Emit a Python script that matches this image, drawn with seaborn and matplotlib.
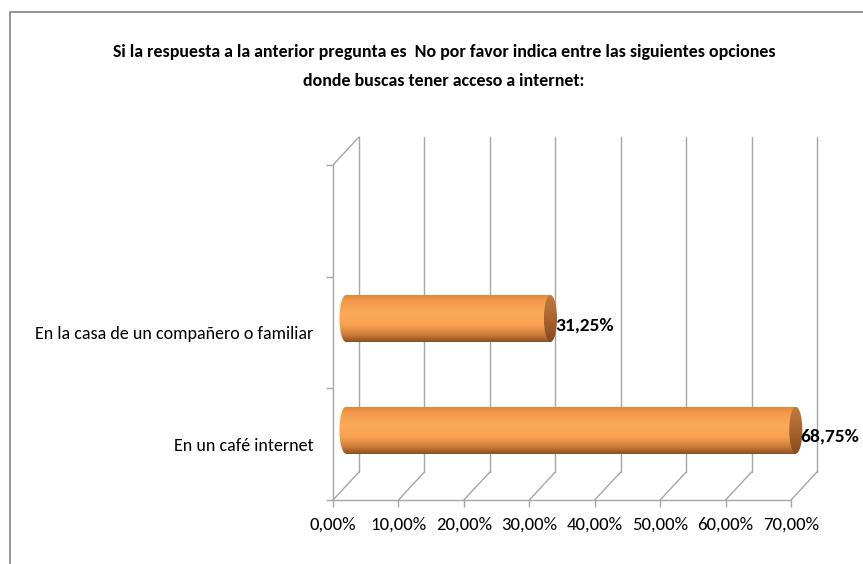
import numpy as np
import seaborn as sns
import matplotlib.pyplot as plt
from matplotlib import transforms
from matplotlib.patches import Ellipse, Rectangle
from matplotlib.colors import LinearSegmentedColormap

categories = ["En la casa de un compañero o familiar", "En un café internet"]
values = [31.25, 68.75]
x_ticks = [0, 10, 20, 30, 40, 50, 60, 70]
title = ("Si la respuesta a la anterior pregunta es  No por favor indica entre las siguientes opciones\n"
         "donde buscas tener acceso a internet:")

sns.set_style("white")
plt.rcParams['font.family'] = ['Carlito', 'DejaVu Sans']
plt.rcParams['text.color'] = 'black'

DPI = 100
GRID = '#a6a6a6'
fig = plt.figure(figsize=(8.63, 5.64), dpi=DPI)
ax = fig.add_axes([333 / 863, 64 / 564, 458 / 863, 335 / 564])
ax.set_facecolor('none')

sns.barplot(x=values, y=categories, orient='h', color='#f7a04c', width=0.42,
            errorbar=None, ax=ax, zorder=3, linewidth=0)

ax.set_xlim(0, 70)
ax.set_ylim(1.5, -1.5)

# depth offsets (pixels) for the fake 3d look
mid = ax.transData + transforms.ScaledTranslation(13 / DPI, 14 / DPI, fig.dpi_scale_trans)
back = ax.transData + transforms.ScaledTranslation(26 / DPI, 28 / DPI, fig.dpi_scale_trans)

# back wall gridlines
for xv in x_ticks:
    ax.plot([xv, xv], [1.5, -1.5], transform=back, color=GRID, lw=1.0, zorder=1, clip_on=False)

# floor lines + top of left wall
def depth_line(xv, yv):
    tr = fig.dpi_scale_trans + transforms.ScaledTranslation(xv, yv, ax.transData)
    ax.plot([0, 26 / DPI], [0, 28 / DPI], transform=tr, color=GRID, lw=1.0, zorder=1, clip_on=False)

for xv in x_ticks:
    depth_line(xv, 1.5)
depth_line(0, -1.5)

# spines / ticks
for s in ['top', 'right']:
    ax.spines[s].set_visible(False)
for s in ['left', 'bottom']:
    ax.spines[s].set_color(GRID)
    ax.spines[s].set_linewidth(1.0)

ax.set_xticks(x_ticks)
ax.set_xticklabels([f"{v:.2f}".replace('.', ',') + '%' for v in x_ticks])
ax.tick_params(axis='x', bottom=True, direction='out', length=5, width=1, color=GRID,
               pad=7, labelsize=13.5, labelcolor='black')
ax.set_yticks([0, 1], categories)
ax.set_yticks([-1.5, -0.5, 0.5, 1.5], minor=True)
ax.tick_params(axis='y', which='major', length=0, pad=14, labelsize=13, labelcolor='black')
ax.tick_params(axis='y', which='minor', left=True, direction='out', length=5, width=1, color=GRID)
ax.set_xlabel('')
ax.set_ylabel('')

# cylinder shading
cyl = LinearSegmentedColormap.from_list('cyl', [(0, '#e4873a'), (0.12, '#f39a4a'), (0.4, '#fdab5b'),
                                                (0.65, '#f4a050'), (0.85, '#cd7a36'), (1, '#8d4f1f')])
cap = LinearSegmentedColormap.from_list('cap', [(0, '#c27a3c'), (0.5, '#aa642e'), (1, '#86491c')])
grad = np.linspace(0, 1, 256).reshape(-1, 1)
ew = 2.0

bars = list(ax.patches)
for bar, v in zip(bars, values):
    bar.set_transform(mid)
    x0 = bar.get_x()
    x1 = x0 + bar.get_width()
    h = bar.get_height()
    yc = bar.get_y() + h / 2
    ext = (x0 - ew / 2, x1, yc + h / 2, yc - h / 2)

    im = ax.imshow(grad, extent=ext, aspect='auto', cmap=cyl, origin='upper',
                   transform=mid, zorder=4, interpolation='bilinear')
    im.set_clip_box(fig.bbox)
    im.set_clip_path(bar)
    left_end = Ellipse((x0, yc), ew, h, transform=mid)
    im2 = ax.imshow(grad, extent=ext, aspect='auto', cmap=cyl, origin='upper',
                    transform=mid, zorder=4, interpolation='bilinear')
    im2.set_clip_box(fig.bbox)
    im2.set_clip_path(left_end)

    right_end = Ellipse((x1, yc), ew, h, transform=mid)
    im3 = ax.imshow(grad, extent=(x1 - ew / 2, x1 + ew / 2, yc + h / 2, yc - h / 2), aspect='auto',
                    cmap=cap, origin='upper', transform=mid, zorder=5, interpolation='bilinear')
    im3.set_clip_box(fig.bbox)
    im3.set_clip_path(right_end)

    ax.text(x1 + ew / 2 - 0.3, yc + 0.06, f"{v:.2f}%".replace('.', ','), transform=mid,
            fontsize=14, fontweight='bold', va='center', ha='left', zorder=6)

ax.set_xlim(0, 70)
ax.set_ylim(1.5, -1.5)

fig.text(444 / 863, 1 - 67 / 564, title, ha='center', va='center', fontsize=12.9,
         fontweight='bold', linespacing=2.0)

fig.add_artist(Rectangle((10 / 863, -0.1), 1.2, (564 - 12) / 564 + 0.1, transform=fig.transFigure,
                         fill=False, edgecolor='#8c8c8c', lw=1.3))

fig.savefig('out.png', dpi=DPI)
